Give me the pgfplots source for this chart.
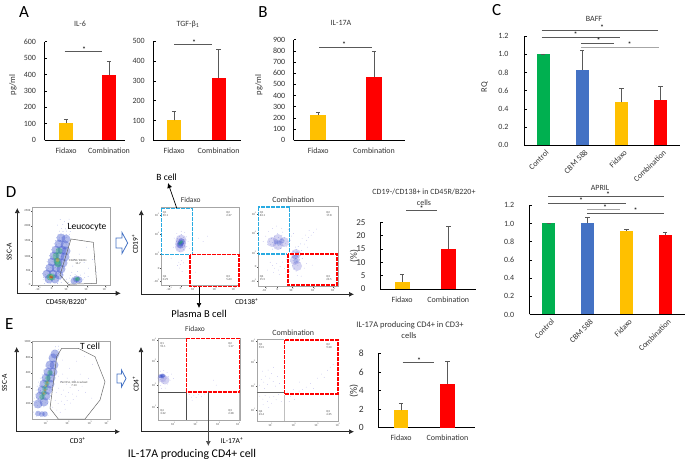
\documentclass[border=0pt]{standalone}
\usepackage{fontspec}
\setmainfont{Carlito}
\usepackage{pgfplots}
\pgfplotsset{compat=1.18}
\usetikzlibrary{arrows.meta}

\definecolor{cyellow}{HTML}{FFC000}
\definecolor{cred}{HTML}{FF0000}
\definecolor{cgreen}{HTML}{00B050}
\definecolor{cblue}{HTML}{4472C4}
\definecolor{errgray}{HTML}{595959}
\definecolor{gate}{HTML}{29ABE2}
\definecolor{dotblue}{HTML}{3048C8}
\definecolor{dotpale}{HTML}{8F8CDC}
\definecolor{dotgreen}{HTML}{22B45A}
\definecolor{dothot}{HTML}{F0A010}

\newcommand\fs[1]{\fontsize{#1}{#1}\selectfont}
\newcommand\pw[1]{10\textsuperscript{#1}}
% significance line with its star (all in pixels of the reference)
\newcommand\sig[6][errgray]{\draw[#1,line width=.8pt] (#2,#4) -- (#3,#4);
  \node[font=\fs{8},inner sep=0pt] at (#5,#6) {*};}
% dashed gate box, white under the dashes so the frame does not show through
\newcommand\gatebox[5]{\draw[white,line width=1.6pt] (#2,#3) rectangle (#4,#5);
  \draw[#1,line width=1.6pt,dash pattern=on 4pt off 1pt] (#2,#3) rectangle (#4,#5);}
\newcommand\quadlab[3]{\node[font=\fs{3},align=left,inner sep=0pt,text=black!70] at (#1,#2) {#3};}

\pgfplotsset{
  /pgf/number format/assume math mode=true,
  barax/.style={
    scale only axis,
    axis lines*=left,
    axis line style={black,line width=.8pt},
    ymin=0,
    tick align=inside,
    major tick length=2.5pt,
    y tick style={black,line width=.7pt},
    x tick style={draw=none},
    xtick={0,1},
    xticklabels={Fidaxo,Combination},
    tick label style={font=\fs{8}},
    xticklabel style={yshift=-4pt,text=black!80},
    yticklabel style={text=black!80,xshift=-5pt},
    scaled y ticks=false,
  },
  errs/.style={
    error bars/.cd,y dir=plus,y explicit,
    error bar style={color=errgray,line width=.7pt},
    error mark options={rotate=90,mark size=2.2pt,color=errgray,line width=.7pt},
  },
  bar/.style={ybar,bar shift=0pt,fill=#1,draw=none,errs},
  flow/.style={
    scale only axis,
    y dir=reverse,
    axis line style={gray!70,line width=.6pt},
    tick align=outside,
    major tick length=1.2pt,
    tick style={black!70,line width=.3pt},
    xtick pos=lower,
    ytick pos=left,
    xticklabel pos=lower,
    tick label style={font=\fs{3},inner sep=.5pt,text=black!70},
  },
  dots/.style={only marks,mark=*,mark size=#1,mark options={draw opacity=0}},
  blob/.style={only marks,mark=*,mark size=#1,mark options={draw opacity=0,fill opacity=.38}},
}

\begin{document}
\begin{tikzpicture}
\path[use as bounding box] (0pt,0pt) rectangle (685pt,460pt);

% A, IL-6
\begin{axis}[barax,at={(44.5pt,319.7pt)},width=80.5pt,height=98.7pt,
  bar width=14pt,xmin=-0.5,xmax=1.37,ymax=600,ytick={0,100,...,600}]
\addplot[bar=cyellow] coordinates {(0,105) +- (0,23)};
\addplot[bar=cred] coordinates {(1,395) +- (0,83)};
\end{axis}

% A, TGF-b1
\begin{axis}[barax,at={(153.3pt,319.7pt)},width=87.5pt,height=99pt,
  bar width=14pt,xmin=-0.47,xmax=1.5,ymax=500,ytick={0,100,...,500}]
\addplot[bar=cyellow] coordinates {(0,100) +- (0,45)};
\addplot[bar=cred] coordinates {(1,315) +- (0,142)};
\end{axis}

% B, IL-17A
\begin{axis}[barax,at={(293.7pt,319.7pt)},width=111pt,height=100.6pt,
  bar width=15.5pt,xmin=-0.44,xmax=1.55,ymax=900,ytick={0,100,...,900}]
\addplot[bar=cyellow] coordinates {(0,225) +- (0,25)};
\addplot[bar=cred] coordinates {(1,570) +- (0,230)};
\end{axis}

% C, BAFF
\begin{axis}[barax,at={(524pt,314.7pt)},width=156pt,height=109.3pt,
  bar width=12.7pt,xmin=-0.49,xmax=3.5,ymax=1.2,ytick={0,0.2,...,1.2},
  yticklabel style={/pgf/number format/fixed,/pgf/number format/fixed zerofill,
    /pgf/number format/precision=1,xshift=-7pt},
  xtick={0,1,2,3},xticklabels={Control,CBM 588,Fidaxo,Combination},
  xticklabel style={rotate=45,anchor=north east,xshift=5pt,yshift=2pt}]
\addplot[bar=cgreen] coordinates {(0,1.0) +- (0,0.003)};
\addplot[bar=cblue] coordinates {(1,0.83) +- (0,0.215)};
\addplot[bar=cyellow] coordinates {(2,0.47) +- (0,0.155)};
\addplot[bar=cred] coordinates {(3,0.495) +- (0,0.15)};
\end{axis}

% C, APRIL
\begin{axis}[barax,at={(529.7pt,145.5pt)},width=155pt,height=109.2pt,
  bar width=12.7pt,xmin=-0.49,xmax=3.5,ymax=1.2,ytick={0,0.2,...,1.2},
  yticklabel style={/pgf/number format/fixed,/pgf/number format/fixed zerofill,
    /pgf/number format/precision=1,xshift=-7pt},
  xtick={0,1,2,3},xticklabels={Control,CBM 588,Fidaxo,Combination},
  xticklabel style={rotate=45,anchor=north east,xshift=5pt,yshift=2pt}]
\addplot[bar=cgreen] coordinates {(0,1.0) +- (0,0.003)};
\addplot[bar=cblue] coordinates {(1,1.0) +- (0,0.07)};
\addplot[bar=cyellow] coordinates {(2,0.92) +- (0,0.015)};
\addplot[bar=cred] coordinates {(3,0.875) +- (0,0.025)};
\end{axis}

% D, plasma B cell bars
\begin{axis}[barax,at={(380pt,171pt)},width=96pt,height=66.7pt,
  bar width=14.7pt,xmin=-0.48,xmax=1.6,ymax=25,ytick={0,5,...,25},
  tick label style={font=\fs{9}},xticklabel style={font=\fs{8}},
  yticklabel style={xshift=-6pt}]
\addplot[bar=cyellow] coordinates {(0,2.8) +- (0,2.7)};
\addplot[bar=cred] coordinates {(1,15) +- (0,8.3)};
\end{axis}

% E, IL-17A producing bars
\begin{axis}[barax,at={(378.3pt,32.3pt)},width=97pt,height=74.4pt,
  bar width=14.7pt,xmin=-0.49,xmax=1.6,ymax=8,ytick={0,2,...,8},
  tick label style={font=\fs{9.5}},xticklabel style={font=\fs{8}},
  yticklabel style={xshift=-6pt}]
\addplot[bar=cyellow] coordinates {(0,1.85) +- (0,0.8)};
\addplot[bar=cred] coordinates {(1,4.7) +- (0,2.45)};
\end{axis}

% D, leucocyte gate (axes run in reference pixels)
\begin{axis}[flow,at={(32.3pt,174.3pt)},width=78pt,height=78.4pt,
  xmin=32.3,xmax=110.3,ymin=207.3,ymax=285.7,
  xtick={38.3,51.7,66.7,86.7,105},xticklabels={-\pw{3},0,\pw{3},\pw{4},\pw{5}},
  ytick={211,226,241,256.7,271,285},yticklabels={250K,200K,150K,100K,50K,0}]
\addplot[blob=4.5pt,color=dotblue] coordinates {
(49,279)(55,279)(47,274)(53,274)(59,275)(50,268)(56,268)(61,269)(52,262)(58,262)(63,263)
(54,256)(60,256)(65,257)(56,250)(62,250)(66,251)(59,244)(65,245)(61,238)(66,239)
};
\addplot[blob=3.5pt,color=dotblue] coordinates {(76.5,279)(74,281)(79,280)};
\addplot[dots=.3pt,color=dotblue!75] coordinates {
(44.6,283.6)(47.3,282.8)(50.8,283.4)(53.9,282.9)(57.5,283.3)(61.2,282.7)
(43.1,279.8)(45.9,280.9)(48.7,279.6)(51.3,280.7)(54.6,279.9)(57.8,280.4)(60.2,279.7)(64.1,280.6)
(43.7,277.6)(46.2,276.4)(49.1,277.3)(52.5,276.7)(55.3,277.5)(58.2,276.6)(61.7,277.2)
(42.3,273.7)(45.2,274.6)(47.8,273.9)(50.4,274.4)(53.1,273.5)(55.9,274.2)(58.6,273.8)(62.4,274.7)
(44.1,271.4)(46.7,270.6)(49.5,271.2)(52.2,270.8)(54.8,271.5)(57.3,270.7)(59.9,271.1)
(45.3,267.6)(48.1,268.4)(50.7,267.8)(53.2,268.3)(55.6,267.5)(58.1,268.2)(60.4,267.7)(63.2,268.5)
(46.2,265.4)(48.9,264.6)(51.4,265.2)(53.8,264.8)(56.2,265.5)(58.7,264.7)(61.1,265.1)(63.5,264.9)
(47.1,261.7)(49.8,262.4)(52.1,261.6)(54.6,262.2)(57,261.8)(59.4,262.5)(61.8,261.9)(64.2,262.1)
(48.2,259.3)(50.6,258.6)(53.1,259.2)(55.4,258.8)(57.8,259.5)(60.1,258.7)(62.6,259.1)(65.1,258.9)
(49.3,255.7)(51.7,256.4)(54.2,255.6)(56.5,256.2)(58.9,255.8)(61.3,256.5)(63.7,255.9)(66,256.1)
(50.4,253.2)(52.8,252.6)(55.1,253.4)(57.6,252.8)(60.1,253.3)(62.4,252.7)(64.9,253.1)(67.1,252.9)
(51.6,249.8)(54,250.4)(56.5,249.6)(58.9,250.2)(61.2,249.7)(63.6,250.3)(66.1,249.9)
(52.7,247.1)(55.2,246.6)(57.7,247.4)(60.1,246.8)(62.5,247.2)(64.9,246.7)(67.3,247.1)
(54.1,243.8)(56.6,244.3)(59,243.6)(61.3,244.2)(63.8,243.7)(66.2,244.1)(68.4,243.9)
(55.3,240.6)(58,241.2)(60.4,240.4)(62.9,241)(65.3,240.7)(67.8,241.1)
(56.7,237.4)(59.3,238)(61.8,237.3)(64.2,237.9)(66.8,237.5)
(58.1,234.3)(61,235)(63.7,234.2)(66.4,234.8)(69.2,234.4)
(59.4,231.2)(63,231.8)(66.3,231.1)(70.2,231.6)(61.2,228.4)(65.4,228.9)(68.7,227.6)
(57.3,225.1)(62.8,224.6)(67.6,223.8)(71.4,226.2)(64.3,221.4)(60.2,219.7)(69.1,219.2)
(72.4,277.8)(74.1,280.1)(75.6,278.2)(77.2,280.6)(78.8,277.6)(80.2,279.7)(81.6,281.3)(73.2,282.1)(76.4,282.4)(79.7,282.7)(83.1,279.1)(84.7,277.4)
(70.2,275.4)(75.1,274.6)(80.3,275.1)(66.4,279.2)(68.2,282.3)(69.7,278.1)(71.8,272.3)(77.3,271.6)(84.3,273.1)(88.1,276.4)
(88.3,268.2)(92.7,259.3)(84.1,262.4)(79.2,254.1)(74.6,259.7)(86.3,247.2)(96.4,272.1)(72.7,266.1)
};
\addplot[blob=3.5pt,color=dotgreen] coordinates {(50,277)(52,277)(57,261)(56,256)(58,264)(59,251)};
\addplot[blob=2pt,color=dotgreen] coordinates {(76.5,279)(78,279)};
\addplot[blob=2pt,color=dothot] coordinates {(51,277)(57.5,260)};
\addplot[blob=1.1pt,color=red] coordinates {(50.5,277)(52,277.3)};
\end{axis}

% D, Fidaxo quadrants
\begin{axis}[flow,at={(161.3pt,174.3pt)},width=78pt,height=78pt,
  xmin=161.3,xmax=239.3,ymin=207.7,ymax=285.7,
  xtick={169.3,180.7,193.3,215,234},xticklabels={-\pw{3},0,\pw{3},\pw{4},\pw{5}},
  ytick={215,234,254.3,268.3,280.7},yticklabels={\pw{5},\pw{4},\pw{3},0,-\pw{3}}]
\addplot[blob=5.5pt,color=dotpale] coordinates {(180.7,243.3)(181,240)(180.5,247)};
\addplot[blob=3.2pt,color=dotblue] coordinates {(180.7,243.3)(181.5,241.5)(180,245)};
\addplot[dots=.3pt,color=dotblue!80] coordinates {
(176.2,241.3)(177.4,238.7)(178.1,243.8)(178.6,246.1)(179.2,236.4)(179.7,240.2)(180.1,248.2)(180.4,242.7)(180.9,238.1)
(181.3,245.2)(181.6,234.8)(182,240.9)(182.4,247.3)(182.8,243.4)(183.2,237.6)(183.7,249.4)(184.1,241.6)(184.6,245.9)(185.1,239.2)(185.6,243.1)(186.2,236.9)(175.4,244.2)(186.8,246.7)(177.9,249.1)(179.4,251.2)
};
\addplot[dots=.3pt,color=dotpale] coordinates {
(173.4,247.3)(174.2,238.1)(188.1,241.7)(189.3,248.4)(181.2,231.3)(184.7,232.4)(176.8,233.7)(198.7,238.2)(203.1,241.4)(207.4,236.2)
(178.9,262.3)(180.2,264.7)(181.4,260.8)(179.3,268.1)(182.1,271.4)(177.6,265.4)(183.4,262.9)(171.2,258.2)(195.2,272.1)
};
\addplot[blob=1.6pt,color=dotgreen] coordinates {(179.7,243.7)(180.8,242.6)(181.7,241.7)};
\end{axis}

% D, Combination quadrants
\begin{axis}[flow,at={(258.3pt,173.3pt)},width=80pt,height=80.4pt,
  xmin=258.3,xmax=338.3,ymin=206.3,ymax=286.7,
  xtick={265,277.3,291.7,313.3,333.3},xticklabels={-\pw{3},0,\pw{3},\pw{4},\pw{5}},
  ytick={214,232.7,253.3,266.7,281},yticklabels={\pw{5},\pw{4},\pw{3},0,-\pw{3}}]
\addplot[blob=5pt,color=dotpale] coordinates {(272,242)(278,239)(278,245)(284,242)(296,254)(295,260)(297,266)};
\addplot[blob=2.6pt,color=dotblue!70] coordinates {(276,242)(279,243)(282,241)(295,257)(296,261)(297,254)};
\addplot[dots=.3pt,color=dotblue!75] coordinates {
(269.3,241.2)(270.8,244.3)(271.6,238.7)(272.4,242.6)(273.2,246.1)(273.9,240.1)(274.7,236.8)(275.3,243.7)(276.1,247.9)(276.8,239.4)
(277.4,242.2)(278.1,245.6)(278.7,237.3)(279.3,241.1)(279.9,243.9)(280.6,248.4)(281.2,239.7)(281.9,235.2)(282.5,242.4)(283.1,245.9)
(283.8,240.4)(284.6,237.9)(285.3,243.2)(286.2,246.8)(287.1,241.2)(288.3,244.4)(267.4,244.8)(272.6,249.1)(277.3,233.4)(282.7,232.1)
(291.2,254.1)(292.3,257.2)(293.1,260.6)(293.8,251.7)(294.4,255.3)(295.1,263.7)(295.6,258.4)(296.2,249.8)(296.7,261.2)(297.3,256.4)
(297.9,265.8)(298.4,252.9)(299.1,259.7)(299.8,262.4)(300.6,255.1)(301.3,250.6)(294.3,268.2)(296.1,271.1)(292.6,265.1)(290.7,261.2)
(302.2,258.3)(303.1,253.8)(298.2,246.7)(300.4,243.9)(295.3,247.1)
};
\addplot[dots=.3pt,color=dotpale] coordinates {
(263.2,241.7)(265.7,236.2)(268.3,231.4)(272.3,228.7)(276.4,226.1)(281.7,228.4)(288.2,229.3)(291.3,236.1)(290.3,240.2)(293.6,233.4)
(304.3,244.1)(306.7,240.3)(308.4,237.6)(311.2,235.2)(313.4,232.4)(302.1,238.7)(305.3,235.1)(309.1,230.4)(316.3,229.1)(307.4,247.2)
(270.2,262.3)(272.4,265.7)(274.6,268.2)(276.7,263.4)(278.4,270.1)(280.1,266.4)(282.3,262.1)(284.3,268.7)(285.7,273.1)(279.2,274.4)
(273.6,272.7)(267.3,270.1)(286.4,259.2)(288.2,265.4)(289.2,271.3)(304.2,268.1)(306.3,263.4)(301.2,276.2)(297.2,275.6)(312.2,265.1)
};
\end{axis}

% E, T cell gate
\begin{axis}[flow,at={(32.3pt,41pt)},width=78pt,height=78pt,
  xmin=32.3,xmax=110.3,ymin=341,ymax=419,
  xtick={46,67.7,90,106.7},xticklabels={\pw{1},\pw{2},\pw{3},\pw{4}},
  ytick={341.7,357.3,372.7,387.7,403.3},yticklabels={1000,800,600,400,200}]
\addplot[blob=4.5pt,color=dotblue] coordinates {
(38,404)(44,402)(40,396)(46,396)(42,390)(48,390)(44,384)(50,384)(46,378)(51,378)(48,372)(53,372)(50,365)(54,365)(53,358)(55,354)
};
\addplot[blob=2.8pt,color=dotblue] coordinates {(38,413.5)(42,414)(45,414)};
\addplot[dots=.3pt,color=dotblue!75] coordinates {
(33.4,412.1)(35.2,414.6)(37.1,412.8)(39.3,415.1)(41.6,413.2)(43.7,414.9)(46.2,412.6)(48.1,415.2)(36.2,416.1)(40.7,416.6)(44.8,416.3)
(33.2,405.1)(35.1,407.4)(37.3,405.8)(39.4,407.1)(41.6,405.4)(43.8,406.9)(33.8,401.7)(36.1,402.6)(38.4,401.2)(40.6,402.8)(42.7,401.4)(45.1,402.3)(47.3,403.7)
(34.2,398.1)(36.4,397.3)(38.6,398.6)(40.8,397.4)(43.1,398.4)(45.3,397.6)(47.6,398.1)(49.3,399.7)
(35.3,394.2)(37.6,393.6)(39.8,394.7)(42.1,393.4)(44.2,394.4)(46.6,393.7)(48.7,394.3)(50.4,395.2)
(36.1,390.1)(38.4,389.6)(40.6,390.4)(42.8,389.4)(45.1,390.3)(47.3,389.7)(49.4,390.1)(51.3,389.4)
(37.2,386.2)(39.7,385.6)(42.1,386.4)(44.3,385.4)(46.6,386.1)(48.7,385.7)(50.8,386.2)(52.6,385.4)
(38.3,382.1)(40.8,381.6)(43.2,382.4)(45.6,381.4)(47.7,382.1)(49.9,381.7)(52.1,382.2)
(40.2,378.1)(42.6,377.6)(45,378.4)(47.3,377.4)(49.6,378.1)(51.8,377.7)(53.7,378.2)
(42.1,374.2)(44.4,373.6)(46.8,374.4)(49.2,373.4)(51.4,374.1)(53.6,373.7)
(43.7,370.1)(46.2,369.6)(48.6,370.4)(51.1,369.4)(53.4,370.1)(55.2,369.7)
(45.6,366.1)(48.1,365.6)(50.7,366.3)(53.2,365.4)(55.4,366.1)
(47.4,362.1)(50.1,361.6)(52.7,362.3)(55.1,361.4)(49.3,358.2)(52.1,357.6)(54.8,358.3)(57.1,357.6)
(51.2,354.1)(54,353.7)(56.7,354.3)(53.3,350.2)(56.1,350.7)(58.2,349.4)(55.3,346.8)(58.4,346.2)
};
\addplot[dots=.3pt,color=dotpale] coordinates {
(56.2,392.4)(58.7,388.2)(61.2,394.6)(63.4,390.1)(65.7,396.2)(68.3,392.7)(70.1,387.4)(72.4,394.1)(66.3,384.2)(61.4,381.7)(58.3,376.2)(62.7,374.1)(67.2,378.1)
(55.2,400.3)(58.1,403.6)(61.3,401.2)(64.4,404.7)(67.1,400.4)(70.3,403.1)(73.2,399.7)(76.4,396.2)(52.7,407.2)(56.8,410.1)(60.2,412.3)(65.1,409.3)
(78.3,390.4)(82.1,386.2)(85.4,392.3)(74.7,380.2)(80.2,374.1)(88.4,378.3)(91.7,398.1)(69.4,368.3)(76.4,361.2)(84.3,356.4)(62.3,360.1)(92.4,364.3)
};
\addplot[blob=2.8pt,color=dotgreen] coordinates {(42,397)(44,393)(45,388)(47,383)(48,378)(50,373)};
\addplot[blob=1.4pt,color=dothot] coordinates {(43.8,393.4)(45.1,390.2)(45.9,385.6)(47.2,382.6)};
\end{axis}

% E, Fidaxo quadrants
\begin{axis}[flow,at={(158.3pt,40pt)},width=81.7pt,height=82pt,
  xmin=158.3,xmax=240,ymin=338,ymax=420,
  xtick={173.3,195.7,218.3,238.3},xticklabels={\pw{1},\pw{2},\pw{3},\pw{4}},
  ytick={340,361,385,406.7},yticklabels={\pw{4},\pw{3},\pw{2},\pw{1}}]
\addplot[blob=4.5pt,color=dotpale] coordinates {(162,378)(165,380)};
\addplot[blob=2pt,color=dotblue] coordinates {(160.5,376.2)(162,376.4)(163,375.6)};
\addplot[dots=.3pt,color=dotblue] coordinates {
(159.1,376.2)(159.8,377.4)(160.4,375.6)(160.9,377.1)(161.3,376.3)(161.8,375.2)(162.2,377.9)(162.7,376.1)(163.1,374.7)(163.6,378.1)(164.2,376.4)(160.2,379.2)(165,375.4)
};
\addplot[dots=.3pt,color=dotpale] coordinates {
(159.4,382.1)(160.7,385.4)(162.1,380.3)(163.4,383.7)(165.1,381.2)(166.4,378.2)(167.2,384.1)(168.6,376.3)(170.1,380.2)(171.6,374.1)(173.4,378.7)(160.3,371.2)(163.7,370.4)(167.1,372.6)(161.4,388.6)(165.2,388.1)
(189.2,394.3)(191.4,397.2)(193.7,395.1)(196.1,397.4)(198.4,394.7)(201.3,396.8)(204.2,394.1)(192.1,400.3)(197.2,392.8)(187.8,399.1)(213.4,380.2)(216.2,385.1)
};
\end{axis}

% E, Combination quadrants
\begin{axis}[flow,at={(257.3pt,39pt)},width=81pt,height=82pt,
  xmin=257.3,xmax=338.3,ymin=339,ymax=421,
  xtick={270.7,294,316.7,338},xticklabels={\pw{1},\pw{2},\pw{3},\pw{4}},
  ytick={341,361.7,385.7,410},yticklabels={\pw{4},\pw{3},\pw{2},\pw{1}}]
\addplot[dots=.3pt,color=dotpale] coordinates {
(259.3,385.2)(261.2,379.4)(263.7,382.1)(265.3,376.2)(267.4,384.3)(269.7,378.1)(271.3,373.4)(273.2,381.7)(275.6,386.1)(277.4,376.7)(279.6,383.4)(262.3,371.2)(268.1,370.1)(273.4,367.3)(264.4,388.7)
(259.7,396.1)(262.8,399.2)(265.1,395.4)(267.4,401.3)(269.3,397.1)(271.6,403.2)(273.8,396.4)(276.1,399.8)(278.3,394.6)(281.2,401.4)(263.1,404.7)(268.7,407.4)
(287.3,392.1)(290.4,396.2)(293.2,389.4)(296.3,394.7)(299.1,391.1)(302.4,389.6)(306.2,387.1)(310.3,383.4)(313.4,388.7)(317.4,378.2)(321.3,374.1)(324.2,377.3)(327.4,370.3)(330.2,367.1)(333.1,364.4)(289.2,401.7)(294.3,399.3)(299.4,382.1)
};
\end{axis}

% gates, arrows, titles: overlay in reference pixels
\begin{axis}[scale only axis,hide axis,at={(0pt,0pt)},width=685pt,height=460pt,
  xmin=0,xmax=685,ymin=0,ymax=460,y dir=reverse,clip=false]

% panel letters
\node[font=\fs{17}] at (24,12.5) {A};
\node[font=\fs{17}] at (263,12.5) {B};
\node[font=\fs{17}] at (496.7,10) {C};
\node[font=\fs{17}] at (11,192.3) {D};
\node[font=\fs{17}] at (9.3,324) {E};

% bar chart titles and y labels
\node[font=\fs{8},text=black!80] at (80,23.5) {IL-6};
\node[font=\fs{8},text=black!80] at (188,24) {TGF-β\textsubscript{1}};
\node[font=\fs{8},text=black!80] at (341,22.5) {IL-17A};
\node[font=\fs{8},text=black!80] at (594,18.5) {BAFF};
\node[font=\fs{8},text=black!80] at (600,188) {APRIL};
\node[font=\fs{8.5},rotate=90,text=black!80] at (13,85) {pg/ml};
\node[font=\fs{8.5},rotate=90,text=black!80] at (259,85) {pg/ml};
\node[font=\fs{8.5},rotate=90,text=black!80] at (484.7,87) {RQ};
\node[font=\fs{9.5},rotate=90,text=black!80] at (354,256) {(\%)};
\node[font=\fs{10},rotate=90,text=black!80] at (354,391) {(\%)};
\node[font=\fs{8},text=black!80] at (424,192) {CD19-/CD138+ in CD45R/B220+};
\node[font=\fs{8},text=black!80] at (424,203) {cells};
\node[font=\fs{8.5},text=black!80] at (410,325.7) {IL-17A producing CD4+ in CD3+};
\node[font=\fs{8.5},text=black!80] at (409,336) {cells};

% significance bars
\sig{64.5}{101.7}{51.7}{84}{50}
\sig{174.3}{211.7}{44.7}{194}{43}
\sig{319}{372}{47}{344}{45}
\sig{541.7}{658.3}{30.3}{602}{28}
\sig{541.7}{620.3}{37}{575.7}{34.5}
\sig{581}{614}{43.3}{598.7}{41}
\sig[gray!70]{581}{658.6}{47}{629.7}{44.5}
\sig{548}{664}{196}{608}{194.5}
\sig{548}{626}{203.3}{581}{200.5}
\sig[gray!70]{587}{620}{209.7}{605}{207.5}
\sig{587}{664}{213.3}{635.7}{211}
\sig{406}{437.3}{210.3}{421.7}{209}
\sig{402.7}{434.3}{362}{419}{360.5}

% flow panels, outer axes and their labels
\draw[black!85,line width=.7pt,-{Latex[length=5pt,width=5pt]}] (17.3,293.3) -- (17.3,208);
\draw[black!85,line width=.7pt,-{Latex[length=5pt,width=5pt]}] (17.3,293.3) -- (120.7,293.3);
\draw[black!85,line width=.7pt,-{Latex[length=5pt,width=5pt]}] (141.3,294.3) -- (141.3,210);
\draw[black!85,line width=.7pt,-{Latex[length=5pt,width=5pt]}] (141.3,294.3) -- (354,294.3);
\draw[black!85,line width=.7pt,-{Latex[length=5pt,width=5pt]}] (16.7,431.7) -- (16.7,347);
\draw[black!85,line width=.7pt,-{Latex[length=5pt,width=5pt]}] (16.7,431.7) -- (120,431.7);
\draw[black!85,line width=.7pt,-{Latex[length=5pt,width=5pt]}] (141,431.7) -- (141,347);
\draw[black!85,line width=.7pt,-{Latex[length=5pt,width=5pt]}] (141,431.7) -- (354,431.7);

\node[font=\fs{7.5},rotate=90] at (9.3,251.7) {SSC-A};
\node[font=\fs{7.5}] at (66.7,302) {CD45R/B220\textsuperscript{+}};
\node[font=\fs{7.5},rotate=90] at (135,244) {CD19\textsuperscript{+}};
\node[font=\fs{7.5}] at (246.7,301.7) {CD138\textsuperscript{+}};
\node[font=\fs{7.5},rotate=90] at (4.5,382.7) {SSC-A};
\node[font=\fs{7.5}] at (77.7,441) {CD3\textsuperscript{+}};
\node[font=\fs{7.5},rotate=90] at (135.7,384) {CD4\textsuperscript{+}};
\node[font=\fs{7.5}] at (232,441) {IL-17A\textsuperscript{+}};

\node[font=\fs{7.5},text=black!80] at (190.7,200) {Fidaxo};
\node[font=\fs{8},text=black!80] at (293.3,199.3) {Combination};
\node[font=\fs{7.5},text=black!80] at (195,329.3) {Fidaxo};
\node[font=\fs{8},text=black!80] at (293.3,332.3) {Combination};
\node[font=\fs{9.5}] at (87,227) {Leucocyte};
\node[font=\fs{9.5}] at (90,346.7) {T cell};
\node[font=\fs{9.5}] at (166.7,177.7) {B cell};
\node[font=\fs{10.5}] at (199,313.5) {Plasma B cell};
\node[font=\fs{11.8}] at (192,454) {IL-17A producing CD4+ cell};

% leucocyte and T cell gates
\draw[black!60,line width=.5pt] (71,239) -- (93.3,242.3) -- (96.7,283.3) -- (68.3,284.3) -- (60,275) -- cycle;
\node[font=\fs{3},align=center,inner sep=0pt,text=black!70] at (78,262) {CD45R/ B220+\\14.7};
\draw[black!60,line width=.5pt] (61.7,348.3) -- (78.3,348.3) -- (95,356.7) -- (105,381.7) -- (100,400) -- (85,419) -- (58.3,419) -- (50,408.3) -- (56.7,356.7) -- cycle;
\node[font=\fs{3},align=center,inner sep=0pt,text=black!70] at (74,384) {PerCP-A, 200-A subset\\7.13};

% block arrows
\draw[cblue,line width=.8pt,fill=white] (116,238) -- (122,238) -- (122,232.5) -- (127.7,243) -- (122,253.5) -- (122,248) -- (116,248) -- cycle;
\draw[cblue,line width=.8pt,fill=white] (117,374) -- (121.5,374) -- (121.5,370) -- (126,378.5) -- (121.5,387) -- (121.5,383) -- (117,383) -- cycle;

% quadrants
\draw[black,line width=.7pt] (161.3,254.7) -- (239.3,254.7);
\draw[black,line width=.7pt] (258.3,254.7) -- (338.3,254.7);
\draw[black!70,line width=.7pt] (158.3,392) -- (186,392) -- (186,420);
\draw[gray!60,line width=.7pt] (239.5,392) -- (239.5,420);
\draw[black!60,line width=.7pt] (257.3,392.7) -- (284.4,392.7);
\draw[gray!50,line width=.9pt] (284.4,394) -- (284.4,421);

\gatebox{gate}{161.3}{208.3}{192.3}{254.3}
\gatebox{cred}{190}{254.6}{239}{286.3}
\gatebox{gate}{258.3}{206.7}{289.3}{254}
\gatebox{cred}{287.8}{253.8}{336.8}{285.2}
\gatebox{cred}{186.4}{338.3}{239.3}{392}
\gatebox{cred}{284.3}{340}{337.7}{394}

% callout arrows
\draw[black,line width=.7pt,-{Latex[length=5pt,width=5pt]}] (176.7,208) -- (168,183);
\draw[black,line width=.7pt,-{Latex[length=5pt,width=5pt]}] (199,287) -- (199,308);
\draw[black!70,line width=.7pt,-{Latex[length=5pt,width=5pt]}] (208.3,392) -- (208.3,446);

% quadrant percentages
\quadlab{165.5}{214}{Q1\\92.1}
\quadlab{229}{214}{Q2\\2.37}
\quadlab{229}{278}{Q3\\5.63}
\quadlab{165.5}{278}{Q4\\0.29}
\quadlab{262.5}{214}{Q1\\63.1}
\quadlab{329}{214}{Q2\\17.8}
\quadlab{329}{278}{Q3\\23.5}
\quadlab{262.5}{278}{Q4\\15.5}
\quadlab{163}{345}{Q1\\91.1}
\quadlab{231}{345}{Q2\\1.17}
\quadlab{231}{412}{Q3\\2.38}
\quadlab{163}{412}{Q4\\3.32}
\quadlab{261.5}{346}{Q1\\53.5}
\quadlab{329}{346}{Q2\\9.20}
\quadlab{329}{413}{Q3\\4.35}
\quadlab{261.5}{413}{Q4\\23.4}
\end{axis}
\end{tikzpicture}
\end{document}
